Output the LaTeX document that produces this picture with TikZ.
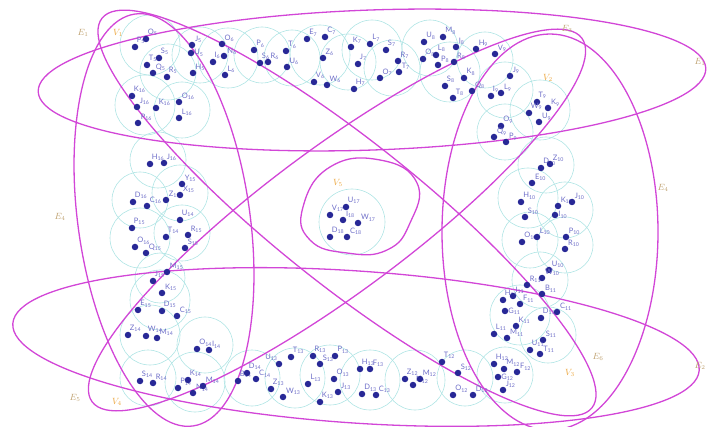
\documentclass[tikz,border=0pt]{standalone}
\usepackage{fontspec}
\usepackage{tikz}
\newfontfamily\dotfont{Lato}
\definecolor{edgemag}{RGB}{210,70,215}
\definecolor{cellteal}{RGB}{175,228,228}
\definecolor{dotblue}{RGB}{40,40,150}
\definecolor{lblblue}{RGB}{110,110,200}
\definecolor{elabtan}{RGB}{190,160,110}
\definecolor{vlaborange}{RGB}{235,165,60}
\tikzset{
  hedge/.style   = {draw=edgemag, line width=1.3pt},
  cell/.style    = {draw=cellteal, line width=0.6pt},
  vdot/.style    = {circle, fill=dotblue, inner sep=0pt, minimum size=6.5pt},
  vlbl/.style    = {font=\dotfont\fontsize{7.5}{7.5}\selectfont, text=lblblue,
                    inner sep=0.3pt, label distance=-0.5pt},
  elbl/.style    = {font=\small, text=elabtan},
  vsetlbl/.style = {font=\small, text=vlaborange},
}

\begin{document}
\begin{tikzpicture}[x=1pt, y=-1pt]
\useasboundingbox (0,0) rectangle (709,427);

% teal cells round the vertex groups
\foreach \x/\y/\r in {150/45/30, 168/72/28, 200/55/28, 228/58/30, 262/55/28,
    292/58/28, 320/55/30, 348/62/28, 372/50/30, 392/68/28, 430/48/28,
    450/72/30, 485/60/28, 505/90/28, 540/110/30, 505/132/28, 546/165/28,
    528/198/30, 565/210/28, 530/240/28, 565/245/28, 540/280/28, 520/315/30,
    548/335/28, 505/375/28, 465/378/28, 415/380/30, 370/380/30, 330/375/30,
    295/378/30, 252/378/28, 195/382/30, 148/378/28, 205/345/28, 150/335/30,
    160/300/30, 160/278/25, 140/238/30, 182/233/28, 140/200/28, 180/193/28,
    158/160/28, 145/105/30, 182/110/28, 352/222/33}
  \draw[cell] (\x,\y) circle [radius=\r];

% hyperedges
\draw[hedge, rotate around={2:(372,80)}]    (372,80)  ellipse [x radius=334, y radius=70];
\draw[hedge, rotate around={-3.9:(356,347)}] (356,347) ellipse [x radius=344, y radius=76];
\draw[hedge, rotate around={8:(164,220)}]   (164,220) ellipse [x radius=86, y radius=208];
\draw[hedge]                                (550,232) ellipse [x radius=108, y radius=198];
\draw[hedge, rotate around={-38.5:(347,213)}] (347,213) ellipse [x radius=313, y radius=72];
\draw[hedge, rotate around={36.6:(337,220)}]  (337,220) ellipse [x radius=305, y radius=72];
\draw[hedge] plot[smooth cycle, tension=0.8] coordinates
  {(303,207) (330,167) (380,160) (417,183) (410,223) (387,250) (347,253) (310,240)};

% vertices
\foreach \x/\y/\n/\s/\a [count=\i] in {
    135/47/P/5/60, 146/39/O/5/60, 147/65/T/5/60, 159/58/S/5/60, 153/73/Q/5/40,
    167/77/R/5/60, 192/45/J/5/30, 191/53/U/5/0, 193/73/H/5/45,
    222/44/O/6/45, 224/56/N/6/20, 213/62/I/6/70, 225/75/L/6/45, 254/50/P/6/50,
    260/63/S/6/60, 268/62/R/6/45, 286/51/T/6/50, 287/67/U/6/45, 307/39/E/7/50,
    325/37/C/7/50, 323/58/Z/6/45, 314/82/V/6/60, 327/85/W/6/45,
    351/47/K/7/60, 370/44/L/7/50, 386/50/S/7/60, 398/61/R/7/45, 399/72/T/7/40,
    358/64/J/7/60, 354/89/H/7/60, 380/78/O/7/45,
    424/42/U/8/50, 443/37/M/8/50, 456/47/I/8/40, 423/59/O/8/50, 436/55/L/8/60,
    438/65/P/8/30, 454/62/R/8/30, 445/86/S/8/60, 453/98/T/8/40, 464/78/K/8/45,
    472/91/Q/8/30,
    476/49/H/9/40, 495/54/V/9/40, 510/76/J/9/40, 491/96/I/9/60, 501/93/L/9/30,
    537/102/T/9/70, 548/108/K/9/30, 529/113/W/9/60, 539/122/U/9/30,
    501/126/O/9/50, 494/137/Q/9/30, 506/142/P/9/30,
    541/168/D/10/50, 550/164/Z/10/40, 532/183/E/10/30, 521/202/H/10/50,
    525/217/S/10/40, 558/206/K/10/40, 572/202/J/10/40, 555/215/I/10/0,
    522/242/O/10/50, 537/237/L/10/40, 566/237/P/10/40, 565/249/R/10/30,
    549/270/U/10/40, 542/278/W/10/30,
    527/285/R/11/40, 542/294/B/11/30, 503/300/H/11/60, 513/296/I/11/45,
    520/304/F/11/30, 505/311/G/11/0, 541/318/D/11/60, 557/312/C/11/30,
    516/326/K/11/45, 494/334/L/11/60, 507/338/M/11/30, 543/340/S/11/40,
    530/350/U/11/60, 540/354/T/11/20,
    494/364/H/12/60, 504/369/M/12/50, 517/372/F/12/30, 498/377/G/12/0,
    503/390/J/12/40, 473/395/D/12/40,
    442/362/T/12/60, 458/373/S/12/40, 453/395/O/12/50, 405/379/Z/12/60,
    413/385/N/12/30, 420/379/M/12/40,
    360/369/H/13/60, 370/369/F/13/40, 362/394/D/13/50, 376/395/C/13/40,
    313/356/R/13/70, 320/364/S/13/40, 335/356/P/13/45, 308/384/L/13/45,
    334/379/O/13/45, 338/392/J/13/30, 320/402/K/13/60, 279/364/U/13/110,
    291/357/T/13/60, 271/389/Z/13/60, 283/397/W/13/30,
    238/381/B/14/60, 247/373/D/14/60, 256/379/C/14/30, 178/388/P/14/50,
    188/380/K/14/60, 193/393/N/14/30, 203/386/M/14/40, 140/381/S/14/60,
    153/383/R/14/40, 197/349/O/14/50, 209/350/I/14/30, 128/335/Z/14/60,
    146/336/W/14/60, 157/338/M/14/40,
    138/310/E/15/50, 162/311/D/15/60, 177/316/C/15/40, 162/293/K/15/30,
    153/281/J/15/60, 167/272/M/15/40, 132/228/P/15/60, 135/247/O/16/50,
    146/253/Q/15/40, 180/220/U/14/60, 188/235/R/15/40, 166/237/T/14/60,
    185/248/S/15/40,
    133/202/D/16/60, 147/206/C/16/40, 166/200/Z/15/40, 180/195/X/15/30,
    182/184/Y/15/40, 150/164/H/16/60, 164/163/J/16/40, 132/96/K/16/60,
    137/107/J/16/40, 138/123/P/16/40, 156/108/K/16/40, 179/102/O/16/40,
    179/118/L/16/40,
    330/215/V/17/60, 346/207/U/17/60, 343/220/I/18/30, 358/223/W/17/30,
    330/237/D/18/60, 347/237/C/18/30}
  \node[vdot, label={[vlbl]\a:\n\textsubscript{\s}}] (v\i) at (\x,\y) {};

% hyperedge and vertex-set labels
\node[elbl]    (e1a) at (83,33)   {$E_1$};
\node[vsetlbl] (s1)  at (118,33)  {$V_1$};
\node[elbl]    (e3a) at (567,29)  {$E_3$};
\node[vsetlbl] (s2)  at (548,78)  {$V_2$};
\node[elbl]    (e1b) at (700,62)  {$E_1$};
\node[elbl]    (e4a) at (663,188) {$E_4$};
\node[elbl]    (e4b) at (60,217)  {$E_4$};
\node[vsetlbl] (s5)  at (338,183) {$V_5$};
\node[elbl]    (e5)  at (75,398)  {$E_5$};
\node[vsetlbl] (s4)  at (117,402) {$V_4$};
\node[elbl]    (e6)  at (598,357) {$E_6$};
\node[vsetlbl] (s3)  at (570,373) {$V_3$};
\node[elbl]    (e2)  at (700,366) {$E_2$};
\end{tikzpicture}
\end{document}
